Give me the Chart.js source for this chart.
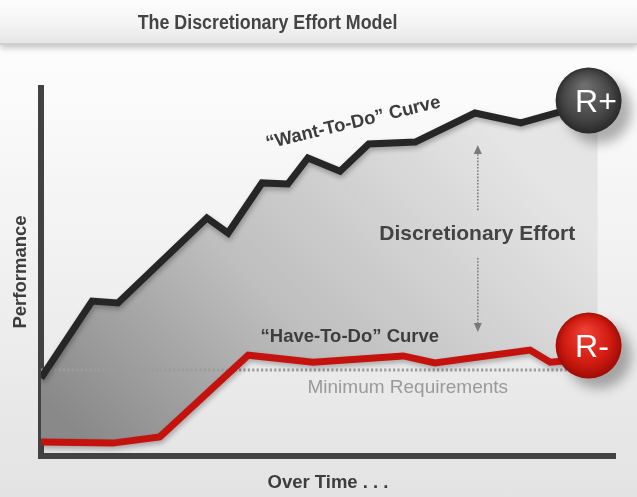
<!DOCTYPE html>
<html>
<head>
<meta charset="utf-8">
<script src="https://cdn.jsdelivr.net/npm/chart.js@4/dist/chart.umd.min.js"></script>
<style>
  html, body { margin: 0; padding: 0; }
  body {
    width: 637px; height: 497px; overflow: hidden; position: relative;
    background: linear-gradient(to bottom, #ffffff 0px, #fbfbfb 90px, #f1f1f1 260px, #e3e3e3 497px);
    font-family: "Liberation Sans", Arial, sans-serif;
  }
  #band {
    position: absolute; left: 0; top: 0; width: 637px; height: 43px;
    background: linear-gradient(to bottom, #fdfdfd 0%, #f3f3f3 60%, #e6e6e6 100%);
    border-bottom: 2px solid #cfcfcf;
    box-shadow: 0 3px 6px rgba(0,0,0,0.22);
  }
  #wrap { position: absolute; left: 0; top: 0; width: 637px; height: 497px; }
</style>
</head>
<body>
<div id="band"></div>
<div id="wrap"><canvas id="c"></canvas></div>
<script>
// ---- data (x = time, y = performance, both 0..100) ----
const wantX = [0, 8.9, 13.4, 21.6, 28.9, 32.6, 38.5, 43.0, 46.5, 52.1, 57.1, 65.2, 75.6, 83.6, 90.4, 97.0];
const wantY = [21.2, 42.1, 41.6, 53.8, 64.7, 60.6, 74.2, 73.9, 81.0, 77.4, 84.8, 85.3, 93.2, 90.5, 93.5, 95.4];
const haveX = [0, 12.5, 20.7, 36.1, 47.4, 63.1, 68.6, 85.2, 88.7, 97.0];
const haveY = [3.8, 3.5, 5.2, 27.4, 25.5, 27.2, 25.3, 28.8, 25.5, 26.6];
const minReqX = [0, 93];
const minReqY = [23.4, 23.4];
const markerX = [95.4, 95.4];
const markerY = [96.6, 30.0];
const markerLabels = ['R+', 'R-'];
const titleText = 'The Discretionary Effort Model';
const yTitle = 'Performance';
const xTitle = 'Over Time . . .';
const curveLabels = ['\u201CWant-To-Do\u201D Curve', '\u201CHave-To-Do\u201D Curve', 'Minimum Requirements', 'Discretionary Effort'];

// ---- layout / style (positions in data units, title in px) ----
const titleLayout = { cx: 267.5, baseline: 28.5, font: 'bold 19.5px "Liberation Sans", Arial, sans-serif', squeeze: 0.915, color: '#444444' };
const labelLayout = [
  { x: 54.4, y: 90.5, rot: -13.5, font: 'bold 18.5px "Liberation Sans", Arial, sans-serif', color: '#3d3d3d' },
  { x: 53.8, y: 32.4, rot: 0, font: 'bold 18.5px "Liberation Sans", Arial, sans-serif', color: '#3d3d3d' },
  { x: 63.9, y: 18.5, rot: 0, font: '19px "Liberation Sans", Arial, sans-serif', color: '#9a9a9a' },
  { x: 76.0, y: 60.3, rot: 0, font: 'bold 21px "Liberation Sans", Arial, sans-serif', color: '#434343' }
];
const arrowLayout = [
  { x: 76.1, from: 66.8, to: 84.5 },
  { x: 76.1, from: 53.8, to: 33.7 }
];
const markerStyles = [
  ['#6e6e6e', '#474747', '#262626'],
  ['#ec4034', '#d11b11', '#980b05']
];

const pts = (xs, ys) => xs.map((x, i) => ({ x, y: ys[i] }));

const fillGradient = (ctx) => {
  const chart = ctx.chart;
  const a = chart.chartArea;
  if (!a) return '#bbb';
  const g = chart.ctx.createLinearGradient(a.left + 60, a.bottom, a.left + 420, a.top + 10);
  g.addColorStop(0, '#898989');
  g.addColorStop(0.45, '#bebebe');
  g.addColorStop(1, '#e5e5e5');
  return g;
};

const markerFill = (ctx) => {
  const chart = ctx.chart;
  if (!chart.chartArea || ctx.type !== 'data') return '#444';
  const i = ctx.dataIndex;
  const cx = chart.scales.x.getPixelForValue(markerX[i]);
  const cy = chart.scales.y.getPixelForValue(markerY[i]);
  const r = 33;
  const g = chart.ctx.createRadialGradient(cx - 4, cy - r * 0.45, 2, cx, cy, r * 1.05);
  const s = markerStyles[i];
  g.addColorStop(0, s[0]);
  g.addColorStop(0.65, s[1]);
  g.addColorStop(1, s[2]);
  return g;
};

const shadowPlugin = {
  id: 'shadows',
  beforeDatasetDraw(chart, args) {
    const ctx = chart.ctx;
    ctx.save();
    const ds = chart.data.datasets[args.index];
    if (ds.shadowKind === 'line') {
      ctx.shadowColor = 'rgba(0,0,0,0.28)';
      ctx.shadowBlur = 5;
      ctx.shadowOffsetX = 1;
      ctx.shadowOffsetY = 3;
    } else if (ds.shadowKind === 'ball') {
      ctx.shadowColor = 'rgba(0,0,0,0.30)';
      ctx.shadowBlur = 12;
      ctx.shadowOffsetX = 10;
      ctx.shadowOffsetY = 10;
    }
  },
  afterDatasetDraw(chart) {
    chart.ctx.restore();
  }
};

const annotationPlugin = {
  id: 'annotations',
  afterDraw(chart) {
    const ctx = chart.ctx;
    ctx.save();
    ctx.font = titleLayout.font;
    ctx.fillStyle = titleLayout.color;
    ctx.textAlign = 'center';
    ctx.textBaseline = 'alphabetic';
    ctx.translate(titleLayout.cx, titleLayout.baseline);
    ctx.scale(titleLayout.squeeze, 1);
    ctx.fillText(titleText, 0, 0);
    ctx.restore();
  },
  afterDatasetsDraw(chart) {
    const ctx = chart.ctx;
    const xs = chart.scales.x, ys = chart.scales.y;
    arrowLayout.forEach(a => {
      const x = xs.getPixelForValue(a.x);
      const y0 = ys.getPixelForValue(a.from);
      const y1 = ys.getPixelForValue(a.to);
      const dir = y1 < y0 ? -1 : 1;
      ctx.save();
      ctx.strokeStyle = '#7d7d7d';
      ctx.lineWidth = 1.6;
      ctx.setLineDash([1.6, 1.6]);
      ctx.beginPath();
      ctx.moveTo(x, y0);
      ctx.lineTo(x, y1 - dir * 8);
      ctx.stroke();
      ctx.setLineDash([]);
      ctx.fillStyle = '#7a7a7a';
      ctx.beginPath();
      ctx.moveTo(x, y1);
      ctx.lineTo(x - 4, y1 - dir * 9);
      ctx.lineTo(x + 4, y1 - dir * 9);
      ctx.closePath();
      ctx.fill();
      ctx.restore();
    });
    curveLabels.forEach((t, i) => {
      const l = labelLayout[i];
      const x = xs.getPixelForValue(l.x);
      const y = ys.getPixelForValue(l.y);
      ctx.save();
      ctx.translate(x, y);
      ctx.rotate(l.rot * Math.PI / 180);
      ctx.font = l.font;
      ctx.fillStyle = l.color;
      ctx.textAlign = 'center';
      ctx.textBaseline = 'middle';
      ctx.fillText(t, 0, 0);
      ctx.restore();
    });
    markerLabels.forEach((t, i) => {
      const x = xs.getPixelForValue(markerX[i]);
      const y = ys.getPixelForValue(markerY[i]);
      ctx.save();
      ctx.font = '32px "Liberation Sans", Arial, sans-serif';
      ctx.fillStyle = '#ffffff';
      ctx.textAlign = 'left';
      ctx.textBaseline = 'alphabetic';
      ctx.fillText(t, x - 13.5, y + 11.5);
      ctx.restore();
    });
  }
};

const chart = new Chart(document.getElementById('c'), {
  type: 'line',
  data: {
    datasets: [
      {
        label: 'Want-To-Do',
        data: pts(wantX, wantY),
        borderColor: '#262626',
        borderWidth: 7,
        borderJoinStyle: 'miter',
        borderCapStyle: 'butt',
        pointRadius: 0,
        tension: 0,
        fill: '+1',
        backgroundColor: fillGradient,
        shadowKind: 'line',
        order: 2
      },
      {
        label: 'Have-To-Do',
        data: pts(haveX, haveY),
        borderColor: '#c4120c',
        borderWidth: 7,
        borderJoinStyle: 'miter',
        borderCapStyle: 'butt',
        pointRadius: 0,
        tension: 0,
        fill: false,
        shadowKind: 'line',
        order: 3
      },
      {
        label: 'Minimum Requirements',
        data: pts(minReqX, minReqY),
        borderColor: '#9c9c9c',
        borderWidth: 3,
        borderDash: [2.2, 2.2],
        pointRadius: 0,
        fill: false,
        order: 4
      },
      {
        type: 'bubble',
        label: 'Markers',
        data: pts(markerX, markerY),
        radius: 33,
        hoverRadius: 0,
        borderWidth: 0,
        backgroundColor: markerFill,
        clip: false,
        shadowKind: 'ball',
        order: 0
      }
    ]
  },
  options: {
    responsive: true,
    maintainAspectRatio: false,
    animation: false,
    events: [],
    layout: { padding: { left: 0, right: 22, top: 88, bottom: 0 } },
    plugins: {
      legend: { display: false },
      tooltip: { enabled: false },
      filler: { drawTime: 'beforeDatasetsDraw' },
      title: { display: false }
    },
    scales: {
      x: {
        type: 'linear', min: 0, max: 100,
        ticks: { display: false },
        grid: { display: false },
        border: { display: true, color: '#424242', width: 6 },
        title: {
          display: true, text: xTitle, color: '#3d3d3d',
          font: { family: '"Liberation Sans", Arial, sans-serif', size: 18.5, weight: 'bold', lineHeight: 1.2 },
          padding: { top: 0, bottom: 3.4 }
        },
        afterFit: (axis) => { axis.height = 41; }
      },
      y: {
        type: 'linear', min: 0, max: 100,
        ticks: { display: false },
        grid: { display: false },
        border: { display: true, color: '#424242', width: 6 },
        title: {
          display: true, text: yTitle, color: '#3d3d3d',
          font: { family: '"Liberation Sans", Arial, sans-serif', size: 18.5, weight: 'bold', lineHeight: 1.2 },
          padding: { top: 10, bottom: 0 }
        },
        afterFit: (axis) => { axis.width = 41; }
      }
    }
  },
  plugins: [shadowPlugin, annotationPlugin]
});
// the marker balls may overhang the plot edge, so they must not widen the layout padding
chart.getDatasetMeta(3).controller.getMaxOverflow = () => false;
chart.update();
</script>
</body>
</html>
